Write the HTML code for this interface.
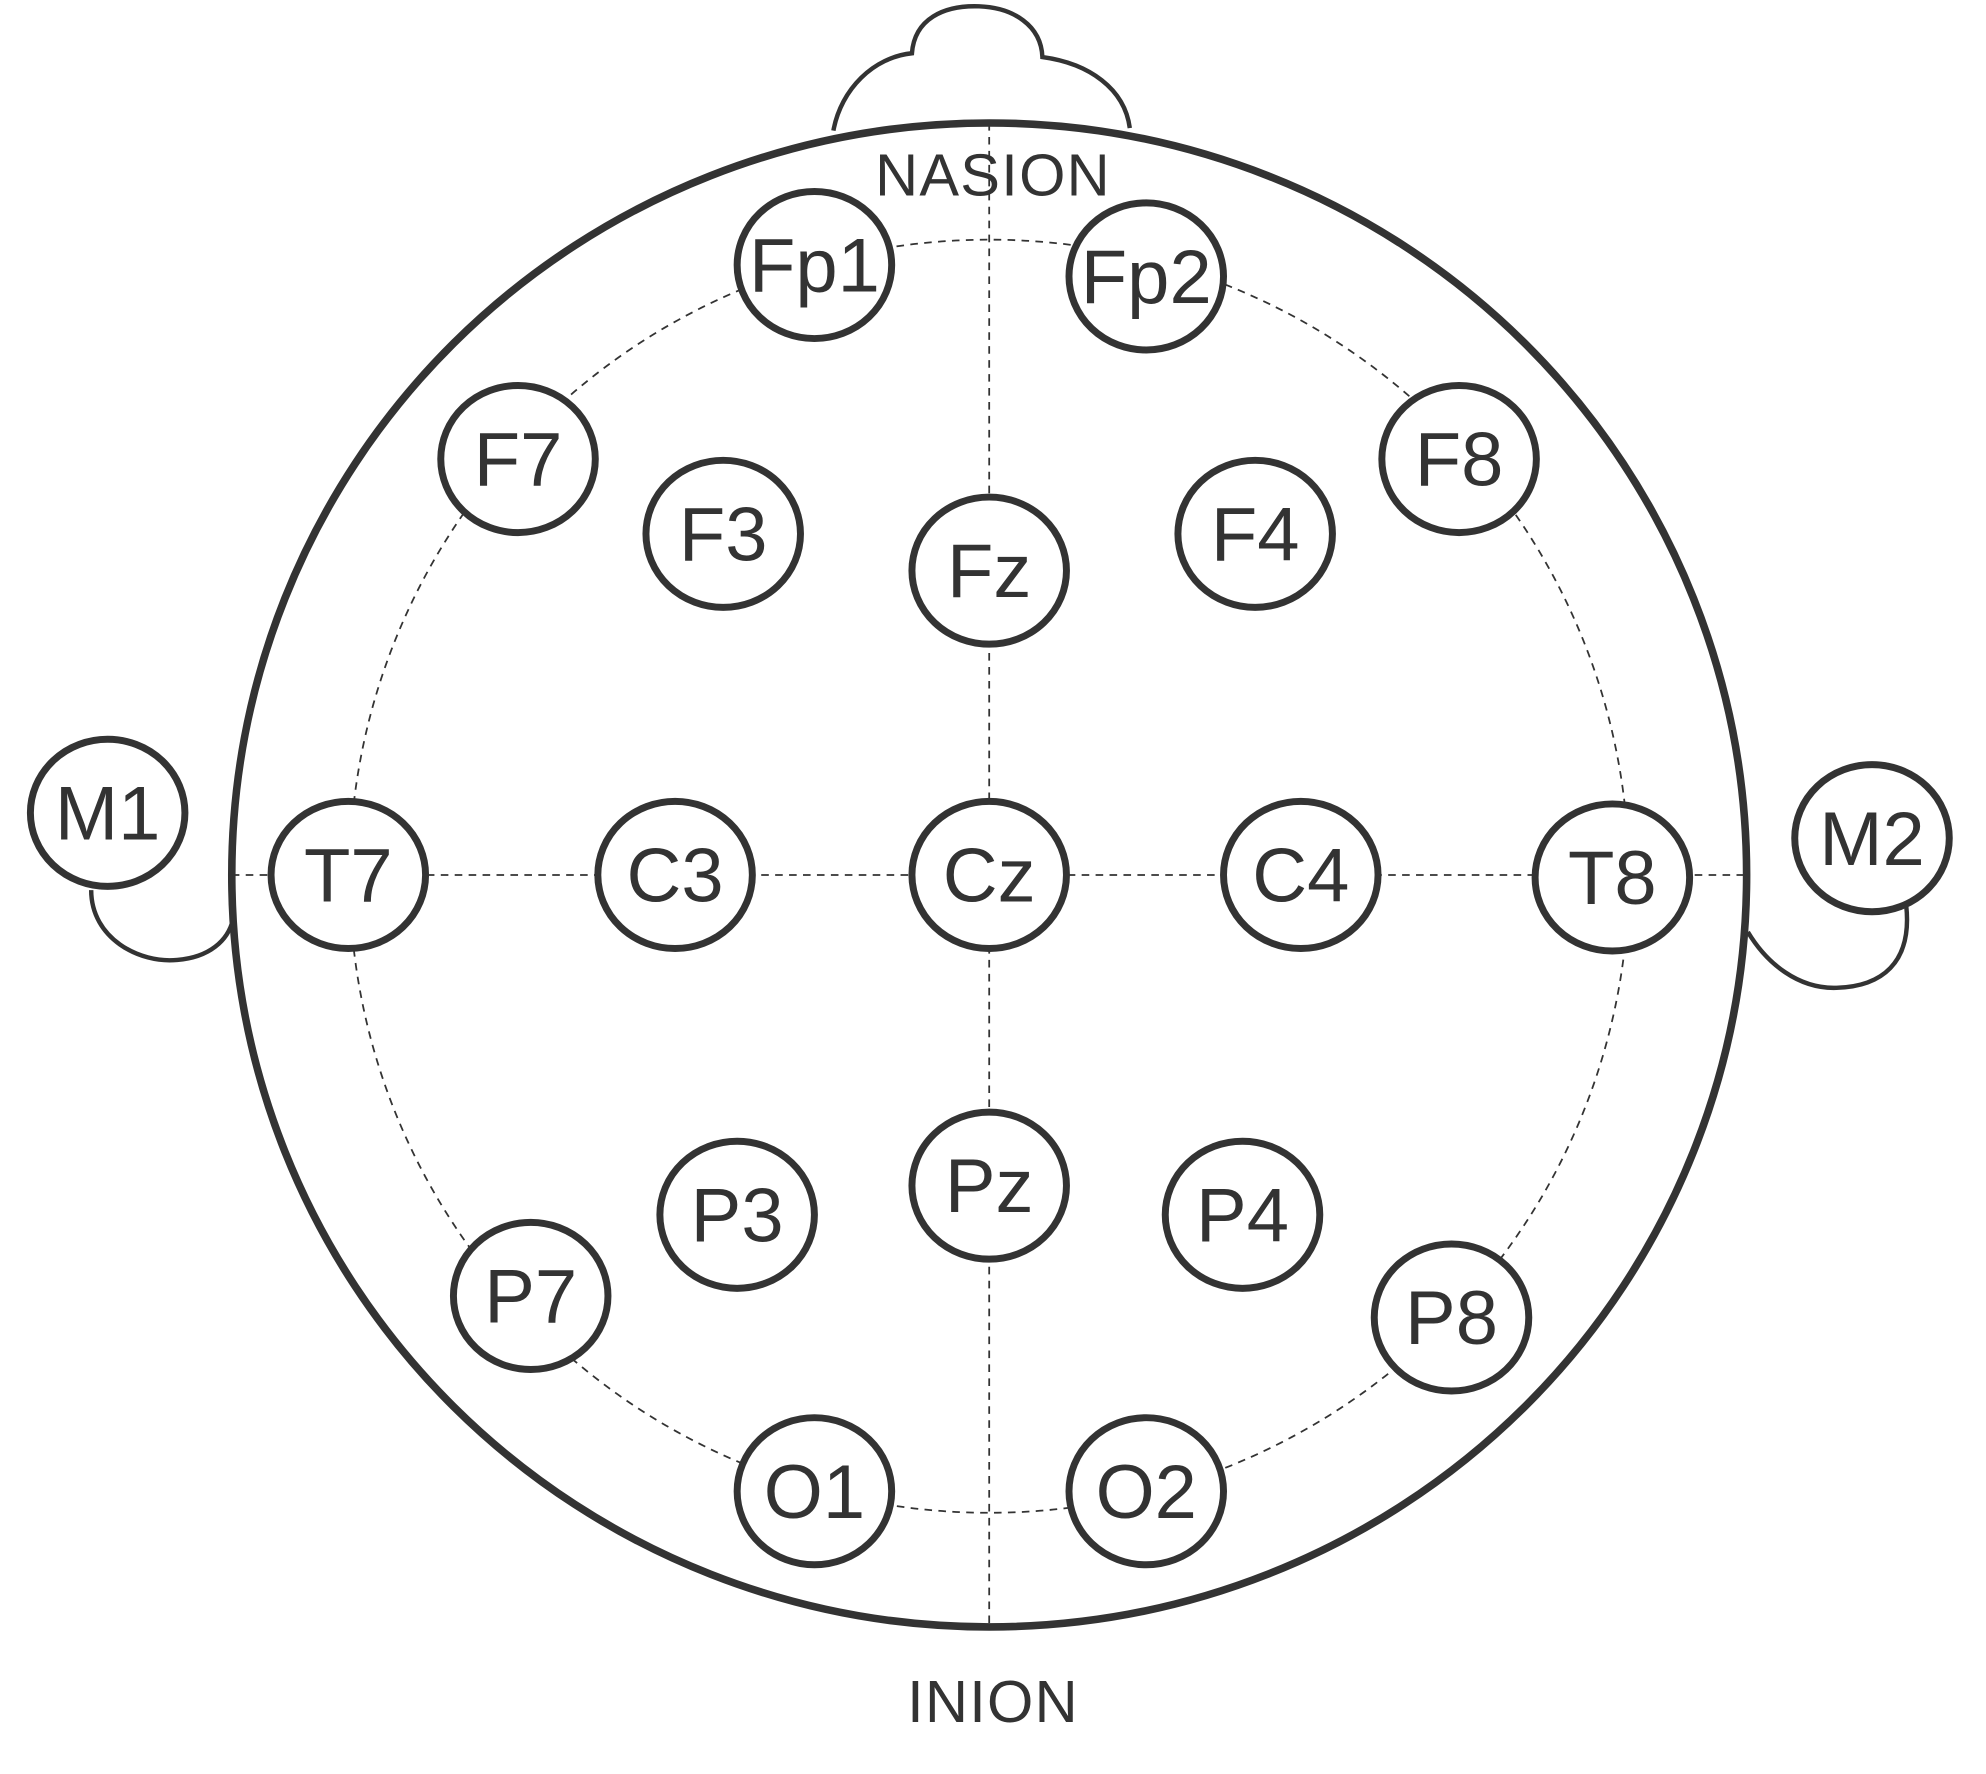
<!DOCTYPE html>
<html><head><meta charset="utf-8"><style>
html,body{margin:0;padding:0;background:#fff;width:1986px;height:1774px;overflow:hidden}
svg{display:block}
text{font-family:"Liberation Sans",sans-serif;fill:#333}
</style></head><body>
<svg id="chart" width="1986" height="1774" viewBox="0 0 1568 1399" preserveAspectRatio="none">
<g fill="none" stroke="#333">
<path stroke-width="3.5" d="M658,103 C664,70 690,45 720,42 C722,15 745,4 773,5 C800,6 822,20 823,45 C860,50 888,70 892,101"/>
<path stroke-width="3.5" d="M72,702 C72,740 110,760 140,757 C165,755 180,742 184,725"/>
<path stroke-width="3.5" d="M1380,735 C1395,760 1420,780 1450,779 C1485,778 1510,760 1505,714"/>
<ellipse cx="781" cy="691" rx="505" ry="502" stroke-width="1.4" stroke-dasharray="6,5"/>
<line x1="781" y1="97" x2="781" y2="1283" stroke-width="1.4" stroke-dasharray="6,5"/>
<line x1="183" y1="690" x2="1380" y2="690" stroke-width="1.4" stroke-dasharray="6,5"/>
<ellipse cx="781" cy="690" rx="598" ry="593" stroke-width="6"/>
</g>
<text x="784" y="154" font-size="47" letter-spacing="1" text-anchor="middle">NASION</text>
<text x="784" y="1358" font-size="47" letter-spacing="1" text-anchor="middle">INION</text>
<g id="electrodes"></g>
</svg>
<script>
const labels=["Fp1","Fp2","F7","F8","F3","Fz","F4","T7","C3","Cz","C4","T8","M1","M2","P3","Pz","P4","P7","P8","O1","O2"];
const xs=[643,905,409,1152,571,781,991,275,533,781,1027,1273,85,1478,582,781,981,419,1146,643,905];
const ys=[209,218,362,362,421,450,421,690,690,690,690,692,641,661,958,935,958,1022,1039,1176,1176];
const NS="http://www.w3.org/2000/svg";
const g=document.getElementById('electrodes');
labels.forEach((l,i)=>{
  const grp=document.createElementNS(NS,'g');
  
  
  const e=document.createElementNS(NS,'ellipse');
  
  
  e.setAttribute('cx',xs[i]);e.setAttribute('cy',ys[i]);
  e.setAttribute('rx',61);e.setAttribute('ry',58);
  e.setAttribute('fill','#fff');e.setAttribute('stroke','#333');e.setAttribute('stroke-width','5.5');
  const t=document.createElementNS(NS,'text');
  
  
  t.setAttribute('x',xs[i]);t.setAttribute('y',ys[i]+21);
  t.setAttribute('text-anchor','middle');t.setAttribute('font-size','60');
  t.textContent=l;
  grp.appendChild(e);grp.appendChild(t);g.appendChild(grp);
});
</script>
</body></html>
